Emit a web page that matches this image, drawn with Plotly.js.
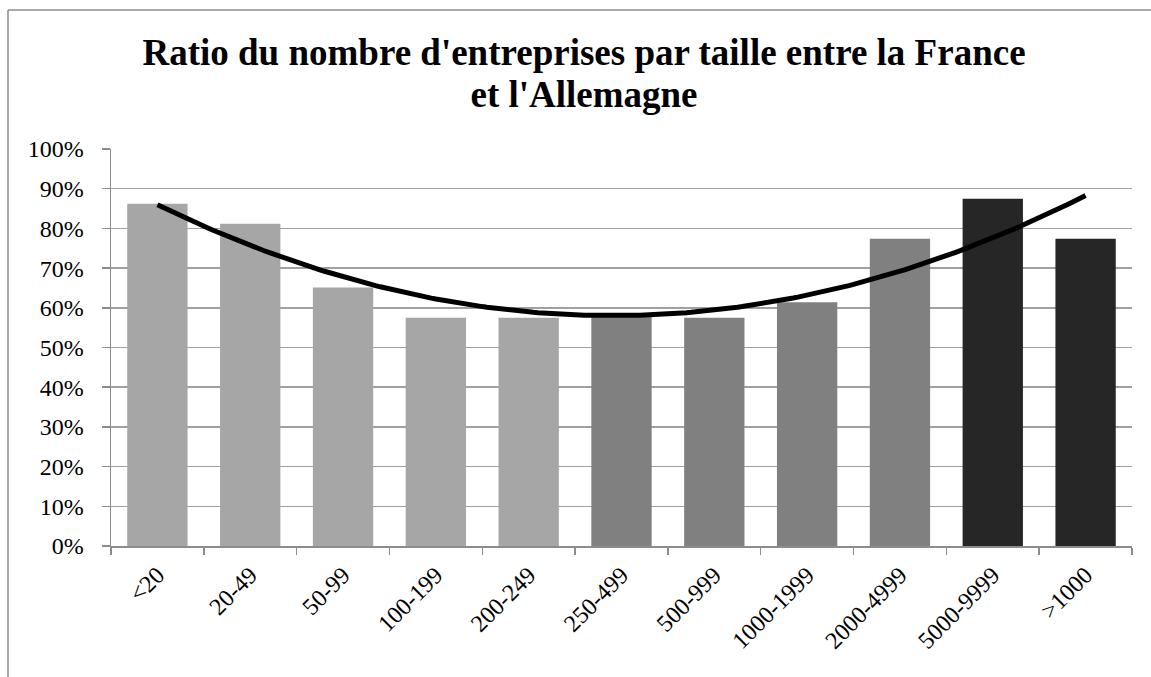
<!DOCTYPE html>
<html>
<head>
<meta charset="utf-8">
<script src="https://cdn.plot.ly/plotly-3.0.1.min.js"></script>
<style>html,body{margin:0;padding:0;background:#fff;}</style>
</head>
<body>
<div id="chart" style="width:1151px;height:677px;"></div>
<script>
// Data
const categories = ['<20','20-49','50-99','100-199','200-249','250-499','500-999','1000-1999','2000-4999','5000-9999','>1000'];
const ratios = [0.862, 0.812, 0.651, 0.575, 0.575, 0.577, 0.575, 0.614, 0.774, 0.875, 0.774];
const barColors = ['#a6a6a6','#a6a6a6','#a6a6a6','#a6a6a6','#a6a6a6','#808080','#808080','#808080','#808080','#262626','#262626'];
const titleLines = ["Ratio du nombre d'entreprises par taille entre la France", "et l'Allemagne"];

// Polynomial (order 2) trendline fitted by least squares on the bar values
function polyFit2(xs, ys) {
  let n = xs.length, sx=0, sx2=0, sx3=0, sx4=0, sy=0, sxy=0, sx2y=0;
  for (let i = 0; i < n; i++) {
    const x = xs[i], y = ys[i];
    sx += x; sx2 += x*x; sx3 += x*x*x; sx4 += x*x*x*x;
    sy += y; sxy += x*y; sx2y += x*x*y;
  }
  const A = [[n, sx, sx2, sy],[sx, sx2, sx3, sxy],[sx2, sx3, sx4, sx2y]];
  for (let c = 0; c < 3; c++) {
    for (let r = c+1; r < 3; r++) {
      const f = A[r][c] / A[c][c];
      for (let k = c; k < 4; k++) A[r][k] -= f * A[c][k];
    }
  }
  const s = [0,0,0];
  for (let r = 2; r >= 0; r--) {
    let v = A[r][3];
    for (let k = r+1; k < 3; k++) v -= A[r][k] * s[k];
    s[r] = v / A[r][r];
  }
  return s;
}
const idx = categories.map((_, i) => i);
const coef = polyFit2(idx, ratios);
const trendX = [], trendY = [];
for (let k = 0; k <= 200; k++) {
  const x = (categories.length - 1) * k / 200;
  trendX.push(x);
  trendY.push(coef[0] + coef[1]*x + coef[2]*x*x);
}

const serif = 'Liberation Serif, Times New Roman, serif';

const traces = [
  {
    type: 'bar', x: categories, y: ratios,
    marker: {color: barColors, line: {width: 0}},
    hoverinfo: 'x+y', showlegend: false
  },
  {
    type: 'scatter', mode: 'lines', x: trendX, y: trendY,
    xaxis: 'x2', yaxis: 'y',
    line: {color: '#000000', width: 5},
    hoverinfo: 'skip', showlegend: false
  }
];

const L = 111, R = 19, T = 149, B = 131, W = 1151, H = 677;
const pw = W - L - R, ph = H - T - B;
const px2x = p => (p - L) / pw;
const py2y = p => (H - B - p) / ph;

const layout = {
  width: W, height: H,
  margin: {l: L, r: R, t: T, b: B, pad: 0},
  paper_bgcolor: '#ffffff', plot_bgcolor: '#ffffff',
  bargap: 0.35,
  title: {
    text: titleLines.map(t => '<span style="font-size:37px">' + t + '</span>').join('<br>'),
    font: {family: serif, size: 32, color: '#000000', weight: 'bold'},
    x: 584 / W, xanchor: 'center',
    y: 1 - 65 / H, yanchor: 'top', yref: 'container'
  },
  xaxis: {
    type: 'category',
    tickson: 'boundaries',
    ticks: 'outside', ticklen: 7, tickwidth: 1.5, tickcolor: '#8c8c8c',
    showline: true, linecolor: '#8c8c8c', linewidth: 1.5,
    showgrid: false, zeroline: false,
    tickangle: -45,
    tickfont: {family: serif, size: 24, color: '#000000'},
    ticklabelstandoff: 4,
    fixedrange: true
  },
  xaxis2: {
    overlaying: 'x', range: [-0.5, categories.length - 0.5],
    visible: false, fixedrange: true
  },
  yaxis: {
    range: [0, 1], dtick: 0.1, tickformat: '.0%',
    ticks: 'outside', ticklen: 8, tickwidth: 1.5, tickcolor: '#8c8c8c',
    showline: true, linecolor: '#8c8c8c', linewidth: 1.5,
    showgrid: true, gridcolor: '#a0a0a0', gridwidth: 1.5,
    zeroline: false,
    tickfont: {family: serif, size: 24, color: '#000000'},
    ticklabelstandoff: 13,
    fixedrange: true
  },
  shapes: [
    {type: 'line', xref: 'paper', yref: 'paper', x0: px2x(8), x1: px2x(8), y0: py2y(10), y1: py2y(H + 5), line: {color: '#8c8c8c', width: 1.5}},
    {type: 'line', xref: 'paper', yref: 'paper', x0: px2x(8), x1: px2x(W + 5), y0: py2y(10), y1: py2y(10), line: {color: '#8c8c8c', width: 1.5}}
  ]
};

Plotly.newPlot('chart', traces, layout, {displayModeBar: false, staticPlot: true});
</script>
</body>
</html>
